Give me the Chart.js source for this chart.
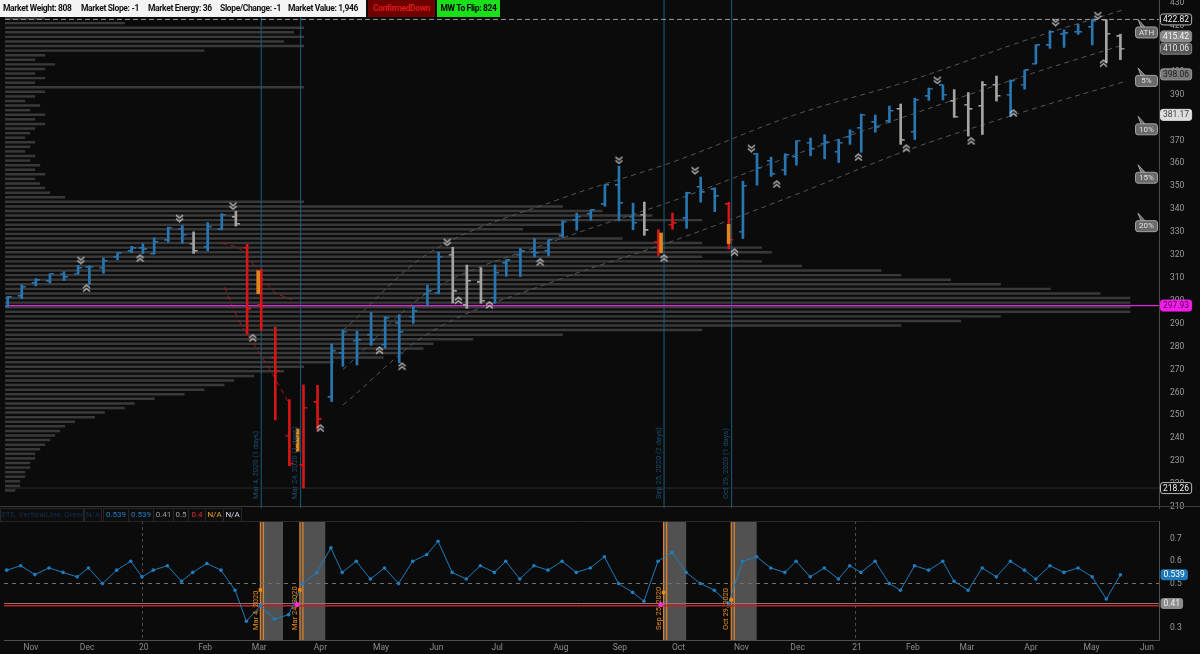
<!DOCTYPE html>
<html>
<head>
<meta charset="utf-8">
<script src="https://cdn.jsdelivr.net/npm/chart.js@4.4.0/dist/chart.umd.min.js"></script>
<style>
  body { margin: 0; background: #0b0b0b; width: 1200px; height: 654px; overflow: hidden; font-family: Roboto, "Open Sans", sans-serif; }
  #price { position: absolute; left: 0; top: -10px; }
  #ind { position: absolute; left: 0; top: 508px; }
  #sep { position: absolute; left: 0; top: 506px; width: 1200px; height: 1px; background: #3c3c3c; }
  .mk { position: absolute; top: 0; height: 17px; line-height: 17px; font-size: 8.5px; font-weight: 700; white-space: nowrap; letter-spacing: -0.35px; }
  #mkw { left: 0; width: 366px; background: #f4f4f4; }
  #mkw span { position: absolute; color: #111; }
  #mkd { left: 368px; width: 67px; background: #6e0000; color: #e01818; text-align: center; }
  #mkf { left: 437px; width: 63px; background: #19e019; color: #000; text-align: center; }
  #ihdr { position: absolute; left: 0; top: 508px; height: 13px; width: 1159px; }
  #ihdr div { position: absolute; top: 0; height: 12px; line-height: 12px; font-size: 8px; border: 1px solid #262626; background: #0d0d0d; text-align: center; white-space: nowrap; }
</style>
</head>
<body>
<canvas id="price" width="1200" height="528"></canvas>
<div id="sep"></div>
<canvas id="ind" width="1200" height="146"></canvas>

<div class="mk" id="mkw">
  <span style="left:3px">Market Weight: 808</span>
  <span style="left:81px">Market Slope: -1</span>
  <span style="left:148px">Market Energy: 36</span>
  <span style="left:220px">Slope/Change: -1</span>
  <span style="left:288px">Market Value: 1,946</span>
</div>
<div class="mk" id="mkd">ConfirmedDown</div>
<div class="mk" id="mkf">MW To Flip: 824</div>

<div id="ihdr">
  <div style="left:0;width:82px;color:#12304c;text-align:left">ZTE, VerticalLine, Green</div>
  <div style="left:84px;width:16px;color:#12304c">N/A</div>
  <div style="left:103px;width:24px;color:#1f80c4">0.539</div>
  <div style="left:128px;width:24px;color:#1f80c4">0.539</div>
  <div style="left:153px;width:19px;color:#9a9a9a">0.41</div>
  <div style="left:173px;width:14px;color:#9a9a9a">0.5</div>
  <div style="left:188px;width:16px;color:#d83030">0.4</div>
  <div style="left:205px;width:17px;color:#e8a030">N/A</div>
  <div style="left:223px;width:17px;color:#d8d8e8">N/A</div>
</div>

<script>
// ---- data (weekly bars, week starting Monday) ----
const weekStart = ['2019-10-21','2019-10-28','2019-11-04','2019-11-11','2019-11-18','2019-11-25','2019-12-02','2019-12-09','2019-12-16','2019-12-23',
  '2019-12-30','2020-01-06','2020-01-13','2020-01-20','2020-01-27','2020-02-03','2020-02-10','2020-02-17','2020-02-24','2020-03-02',
  '2020-03-09','2020-03-16','2020-03-23','2020-03-30','2020-04-06','2020-04-13','2020-04-20','2020-04-27','2020-05-04','2020-05-11',
  '2020-05-18','2020-05-25','2020-06-01','2020-06-08','2020-06-15','2020-06-22','2020-06-29','2020-07-06','2020-07-13','2020-07-20',
  '2020-07-27','2020-08-03','2020-08-10','2020-08-17','2020-08-24','2020-08-31','2020-09-07','2020-09-14','2020-09-21','2020-09-28',
  '2020-10-05','2020-10-12','2020-10-19','2020-10-26','2020-11-02','2020-11-09','2020-11-16','2020-11-23','2020-11-30','2020-12-07',
  '2020-12-14','2020-12-21','2020-12-28','2021-01-04','2021-01-11','2021-01-18','2021-01-25','2021-02-01','2021-02-08','2021-02-15',
  '2021-02-22','2021-03-01','2021-03-08','2021-03-15','2021-03-22','2021-03-29','2021-04-05','2021-04-12','2021-04-19','2021-04-26',
  '2021-05-03','2021-05-10','2021-05-17'];
const open = [297.9,302.0,307.8,308.5,311.9,311.9,314.6,314.4,319.0,321.6,
  322.9,320.5,326.4,331.3,325.0,323.4,331.2,336.5,323.1,298.2,
  275.0,241.2,228.2,255.7,257.8,277.1,282.6,285.1,280.7,290.3,
  293.1,302.9,303.6,320.2,298.0,308.0,301.4,316.4,320.1,321.4,
  321.6,328.3,335.1,337.9,342.1,350.4,336.7,337.5,325.7,333.2,
  336.0,349.6,348.6,342.1,330.2,364.0,361.0,357.3,362.8,369.0,
  368.6,365.0,371.7,375.3,377.9,378.3,383.7,373.7,389.3,394.0,
  387.1,385.6,385.0,394.3,390.0,394.4,403.5,411.5,416.3,417.4,
  419.4,422.5,415.4];
const high = [301.9,307.0,309.7,311.8,312.7,315.5,315.3,318.7,320.9,323.8,
  324.9,327.5,332.2,332.9,330.1,334.2,338.1,339.1,324.7,313.8,
  288.5,256.9,263.3,263.1,281.2,287.3,286.8,294.9,293.0,294.0,
  297.9,306.8,321.3,323.4,315.6,314.5,315.7,317.9,323.0,327.2,
  326.6,335.0,338.3,339.7,350.7,358.8,342.6,343.1,331.1,338.3,
  347.4,354.0,349.3,343.0,352.2,364.4,362.7,364.2,369.9,371.1,
  372.5,370.5,374.7,381.5,381.1,385.0,385.9,388.5,392.9,394.2,
  392.2,390.9,395.7,398.1,396.4,400.7,411.7,417.9,418.3,420.7,
  422.8,422.7,416.4];
const low = [297.2,300.9,306.5,307.8,308.9,311.7,307.1,312.0,317.9,321.0,
  320.5,320.4,325.6,325.1,320.7,321.8,331.0,332.6,285.5,286.9,
  248.0,228.0,218.3,243.9,256.0,271.4,272.0,280.5,279.3,273.0,
  290.2,297.8,303.1,299.0,296.7,298.9,298.9,310.7,310.6,319.2,
  319.6,327.8,330.8,335.2,341.3,334.9,331.0,328.6,319.8,331.2,
  331.6,343.1,338.9,322.6,327.2,350.5,354.3,354.9,359.2,363.3,
  362.0,360.4,368.3,364.8,373.6,377.8,368.3,370.4,387.5,387.7,
  380.1,371.9,372.6,387.2,380.5,392.4,403.4,410.2,410.6,416.3,
  411.7,404.0,405.3];
const close = [301.6,306.1,309.0,311.8,310.3,314.3,314.9,317.3,320.7,322.9,
  322.4,325.7,332.0,328.8,321.7,332.2,337.6,333.5,296.3,297.5,
  269.3,228.8,253.4,248.2,278.2,286.6,283.0,282.8,292.4,286.3,
  295.4,304.3,319.3,304.2,308.6,300.1,312.2,317.6,321.7,320.9,
  326.5,334.6,336.8,339.5,350.6,342.6,334.1,330.7,328.7,333.8,
  346.9,347.3,345.8,326.5,350.2,358.1,355.3,363.7,369.9,366.3,
  369.2,369.0,373.9,381.3,375.7,382.9,370.1,387.7,392.6,390.0,
  380.4,383.6,394.1,389.5,396.0,400.6,411.5,417.3,416.7,417.3,
  422.1,416.6,410.1];
// b = trend up (blue), r = confirmed down (red), g = neutral (grey)
const barTone = ['b','b','b','b','b','b','b','b','b','b',
  'b','b','b','b','g','b','b','g','r','r',
  'r','r','r','r','b','b','b','b','b','b',
  'b','b','b','g','g','g','b','b','b','b',
  'b','b','b','b','b','b','b','g','r','r',
  'b','b','b','r','b','b','b','b','b','b',
  'b','b','b','b','b','b','g','b','b','b',
  'g','g','g','g','b','b','b','b','b','b',
  'b','g','g'];

// lower study, one reading per week
const studyValue = [0.56,0.58,0.54,0.57,0.55,0.53,0.57,0.50,0.56,0.60,
  0.53,0.56,0.58,0.51,0.55,0.59,0.56,0.47,0.33,0.40,
  0.34,0.36,0.50,0.55,0.66,0.55,0.60,0.52,0.57,0.50,
  0.60,0.63,0.69,0.55,0.52,0.58,0.55,0.60,0.52,0.58,
  0.56,0.60,0.55,0.57,0.62,0.50,0.46,0.42,0.60,0.64,
  0.55,0.50,0.47,0.41,0.60,0.62,0.57,0.55,0.60,0.53,
  0.57,0.52,0.58,0.55,0.60,0.50,0.47,0.58,0.56,0.60,
  0.51,0.47,0.57,0.53,0.60,0.56,0.52,0.58,0.55,0.57,
  0.53,0.43,0.539];

// volume profile rows (price level, relative volume)
const profileLevel = [426,424,422,420,418,416,414,412,410,408,406,404,402,400,398,396,394,392,390,388,
  386,384,382,380,378,376,374,372,370,368,366,364,362,360,358,356,354,352,350,348,
  346,344,342,340,338,336,334,332,330,328,326,324,322,320,318,316,314,312,310,308,
  306,304,302,300,298,296,294,292,290,288,286,284,282,280,278,276,274,272,270,268,
  266,264,262,260,258,256,254,252,250,248,246,244,242,240,238,236,234,232,230,228,
  226,224,222,220,218];
const profileVol = [20,40,120,300,290,300,280,300,200,40,30,50,40,30,40,30,300,40,30,20,
  35,25,40,30,40,30,25,20,30,25,20,30,25,35,30,40,30,35,40,45,
  60,300,560,600,650,700,560,520,560,620,700,760,770,700,760,800,880,900,950,1000,
  1050,1100,1130,1130,1130,1130,1000,960,900,700,560,470,430,420,400,380,330,300,280,250,
  230,220,200,180,150,130,120,100,90,70,60,55,50,45,40,35,30,30,25,25,
  20,20,15,15,10];

// regression channel (dashed)
const channelDates = ['2020-04-15','2020-06-01','2020-08-03','2020-10-01','2020-12-01','2021-02-01','2021-04-01','2021-05-20'];
const channelUpper = [287,322,344,361,381,396,414,427];
const channelMid = [270,305,326.5,344,363.6,381,398.6,411.7];
const channelLower = [254.5,287,309,326.5,346,366,383,395.5];
const crashDatesA = ['2020-02-12','2020-02-24','2020-03-10','2020-03-19'];
const crashA = [325.2,322.2,304.7,300.4];
const crashDatesB = ['2020-02-13','2020-02-21','2020-03-02','2020-03-10','2020-03-18'];
const crashB = [306,291.6,279.8,268,255];

// swing markers
const swingHighDates = ['2019-11-29','2020-01-22','2020-02-19','2020-06-08','2020-09-02','2020-10-12','2020-11-09','2021-02-16','2021-04-16','2021-05-07'];
const swingHighPrice = [317.8,336.1,341.5,325.7,361.5,357.0,366.7,396.4,421.7,424.7];
const swingLowDates = ['2019-12-03','2019-12-31','2020-02-28','2020-04-02','2020-05-04','2020-05-14','2020-06-12','2020-06-29','2020-07-24','2020-09-25','2020-10-30','2020-11-20','2021-01-05','2021-01-29','2021-03-04','2021-03-25','2021-05-11'];
const swingLowPrice = [305.6,318.7,283.8,244.5,278.5,271.5,300.3,298.2,317.0,318.7,321.3,351.0,362.8,366.7,369.8,382.0,403.8];

// signal days
const eventDates = ['2020-03-04','2020-03-24','2020-09-25','2020-10-29'];
const eventText = ['Mar 4, 2020 (1 days)','Mar 24, 2020 (1 days)','Sep 25, 2020 (2 days)','Oct 29, 2020 (1 days)'];
const eventShort = ['Mar 4, 2020','Mar 24, 2020','Sep 25, 2020','Oct 29, 2020'];
const eventLow = [303.1,234.3,321.0,325.0];
const eventHigh = [313.1,244.1,329.6,333.4];
const eventEnd = ['2020-03-16','2020-04-06','2020-10-07','2020-11-11'];
const orangeMarkDates = ['2020-03-04','2020-03-24','2020-09-25','2020-10-29'];
const orangeMarkVal = [0.471,0.471,0.46,0.426];
const pinkMarkDates = ['2020-03-23','2020-09-24'];
const pinkMarkVal = [0.406,0.406];

// levels
const athLevel = 422.82;
const pivotLevel = 297.93;
const lowLevel = 218.26;
const priceTags = [
  { v: 422.82, t: '422.82', fill: '#0d0d0d', stroke: '#b8b8b8', color: '#eeeeee' },
  { v: 415.42, t: '415.42', fill: '#8a8a8a', stroke: '#8a8a8a', color: '#f4f4f4' },
  { v: 410.06, t: '410.06', fill: '#555555', stroke: '#888888', color: '#e8e8e8' },
  { v: 398.86, t: '398.06', fill: '#7a7a7a', stroke: '#9a9a9a', color: '#1c1c1c' },
  { v: 381.17, t: '381.17', fill: '#dedede', stroke: '#dedede', color: '#444444' },
  { v: 297.93, t: '297.93', fill: '#f01ee8', stroke: '#f01ee8', color: '#5a005a' },
  { v: 218.26, t: '218.26', fill: '#0d0d0d', stroke: '#b8b8b8', color: '#eeeeee' }
];
const bubbleText = ['ATH','5%','10%','15%','20%'];
const bubbleLevel = [422.82,401.68,380.54,359.40,338.26];
const studyTags = [
  { v: 0.539, t: '0.539', fill: '#1f78b8', color: '#ffffff' },
  { v: 0.41, t: '0.41', fill: '#8c8c8c', color: '#f0f0f0' }
];

const monthStart = ['2019-11-01','2019-12-02','2020-01-02','2020-02-03','2020-03-02','2020-04-01','2020-05-01','2020-06-01','2020-07-01','2020-08-03',
  '2020-09-01','2020-10-01','2020-11-02','2020-12-01','2021-01-04','2021-02-01','2021-03-01','2021-04-01','2021-05-03','2021-06-01'];
const monthLabel = ['Nov','Dec','20','Feb','Mar','Apr','May','Jun','Jul','Aug','Sep','Oct','Nov','Dec','21','Feb','Mar','Apr','May','Jun'];

// ---- trading-day axis ----
const holidays = ['2019-11-28','2019-12-25','2020-01-01','2020-01-20','2020-02-17','2020-04-10','2020-05-25','2020-07-03','2020-09-07',
  '2020-11-26','2020-12-25','2021-01-01','2021-01-18','2021-02-15','2021-04-02','2021-05-31'];
function tday(s) {
  const base = Date.UTC(2019, 10, 1);
  const p = s.split('-').map(Number);
  const t = Date.UTC(p[0], p[1] - 1, p[2]);
  const a = Math.min(t, base), b = Math.max(t, base);
  let n = 0;
  for (let d = a; d < b; d += 864e5) {
    const dt = new Date(d);
    const wd = dt.getUTCDay();
    if (wd > 0 && wd < 6 && !holidays.includes(dt.toISOString().slice(0, 10))) n++;
  }
  return t >= base ? n : -n;
}
const X_MIN = -7.95, X_MAX = 401.7;
const monthIdx = monthStart.map(tday);
const yearIdx = [monthIdx[2], monthIdx[14]];
const barX = weekStart.map(d => tday(d) + 2);

const tone = { b: '#2877b2', r: '#d41616', g: '#a4a4a4' };

function tickImg(color, left) {
  const c = document.createElement('canvas');
  c.width = 10; c.height = 2;
  const g = c.getContext('2d');
  g.fillStyle = color;
  g.fillRect(left ? 1 : 5, 0, 4, 1.5);
  return c;
}
const openImg = {}, closeImg = {};
Object.keys(tone).forEach(k => { openImg[k] = tickImg(tone[k], true); closeImg[k] = tickImg(tone[k], false); });

function chevImg(up) {
  const c = document.createElement('canvas');
  c.width = 9; c.height = 9;
  const g = c.getContext('2d');
  g.strokeStyle = '#d0d0d0'; g.lineWidth = 1.1;
  [1.5, 5].forEach(o => {
    g.beginPath();
    if (up) { g.moveTo(1, o + 3); g.lineTo(4.5, o); g.lineTo(8, o + 3); }
    else { g.moveTo(1, o); g.lineTo(4.5, o + 3); g.lineTo(8, o); }
    g.stroke();
  });
  return c;
}

function hline(v, color, dash, width) {
  return { type: 'line', data: [{ x: X_MIN, y: v }, { x: X_MAX, y: v }], borderColor: color, borderWidth: width || 1,
    borderDash: dash || [], pointRadius: 0, order: 4 };
}
function dashLine(dates, vals, color) {
  return { type: 'line', data: dates.map((d, i) => ({ x: tday(d), y: vals[i] })), borderColor: color, borderWidth: 1,
    borderDash: [5, 4], pointRadius: 0, tension: 0.35, order: 5 };
}

function roundRect(ctx, x, y, w, h, r) {
  ctx.beginPath();
  ctx.moveTo(x + r, y); ctx.lineTo(x + w - r, y); ctx.quadraticCurveTo(x + w, y, x + w, y + r);
  ctx.lineTo(x + w, y + h - r); ctx.quadraticCurveTo(x + w, y + h, x + w - r, y + h);
  ctx.lineTo(x + r, y + h); ctx.quadraticCurveTo(x, y + h, x, y + h - r);
  ctx.lineTo(x, y + r); ctx.quadraticCurveTo(x, y, x + r, y);
  ctx.closePath();
}

const priceDecor = {
  id: 'priceDecor',
  afterDatasetsDraw(chart) {
    const ctx = chart.ctx, xs = chart.scales.x, ys = chart.scales.y, a = chart.chartArea;
    ctx.save();
    ctx.font = '7.5px Roboto';
    ctx.fillStyle = '#1b4e70';
    eventDates.forEach((d, i) => {
      const x = xs.getPixelForValue(tday(d));
      ctx.save();
      ctx.translate(x - 1.5, a.bottom - 9);
      ctx.rotate(-Math.PI / 2);
      ctx.textAlign = 'left';
      ctx.textBaseline = 'bottom';
      ctx.fillText(eventText[i], 0, 0);
      ctx.restore();
    });
    // % from ATH callouts
    ctx.font = '8px Roboto';
    bubbleLevel.forEach((v, i) => {
      const y = ys.getPixelForValue(v);
      ctx.fillStyle = '#6a6a6a';
      ctx.strokeStyle = '#a0a0a0';
      ctx.beginPath();
      ctx.moveTo(1138, y); ctx.lineTo(1141, y + 7.5); ctx.lineTo(1145, y + 7.5); ctx.closePath();
      ctx.fill(); ctx.stroke();
      roundRect(ctx, 1135.5, y + 7.5, 22, 11, 2.5);
      ctx.fill(); ctx.stroke();
      ctx.fillStyle = '#e0e0e0';
      ctx.textAlign = 'center'; ctx.textBaseline = 'middle';
      ctx.fillText(bubbleText[i], 1146.5, y + 13.3);
    });
    ctx.restore();
  },
  afterDraw(chart) {
    const ctx = chart.ctx, ys = chart.scales.y;
    ctx.save();
    ctx.font = '8.5px Roboto';
    ctx.textBaseline = 'middle';
    priceTags.forEach(tg => {
      const y = ys.getPixelForValue(tg.v);
      const w = ctx.measureText(tg.t).width + 5;
      roundRect(ctx, 1160.5, y - 5.5, w, 11, 2.5);
      ctx.fillStyle = tg.fill; ctx.fill();
      ctx.strokeStyle = tg.stroke; ctx.lineWidth = 1; ctx.stroke();
      ctx.fillStyle = tg.color;
      ctx.fillText(tg.t, 1163, y + 0.5);
    });
    ctx.restore();
  }
};

const priceChart = new Chart(document.getElementById('price'), {
  type: 'bar',
  data: {
    datasets: [
      { type: 'bar', indexAxis: 'y', order: 10, barThickness: 1.8, backgroundColor: 'rgba(66,66,66,0.85)',
        data: profileLevel.map((p, i) => ({ x: [X_MIN, X_MIN + profileVol[i] * 0.3534], y: p })) },
      dashLine(channelDates, channelUpper, '#575757'),
      dashLine(channelDates, channelMid, '#575757'),
      dashLine(channelDates, channelLower, '#575757'),
      dashLine(crashDatesA, crashA, '#b01616'),
      dashLine(crashDatesB, crashB, '#b01616'),
      hline(athLevel, '#9a9a9a', [5, 3]),
      hline(pivotLevel, '#e21ee0', [], 1.2),
      hline(lowLevel, '#2c2c2c'),
      ...eventDates.map(d => ({ type: 'line', data: [{ x: tday(d), y: 205 }, { x: tday(d), y: 440 }],
        borderColor: '#1b5c80', borderWidth: 1, pointRadius: 0, order: 4 })),
      { type: 'bar', order: 2, barThickness: 2,
        data: barX.map((x, i) => ({ x: x, y: [low[i], high[i]] })),
        backgroundColor: barTone.map(t => tone[t]) },
      { type: 'bar', order: 1, barThickness: 3, backgroundColor: '#e0861c',
        data: eventDates.map((d, i) => ({ x: tday(d), y: [eventLow[i], eventHigh[i]] })) },
      { type: 'line', showLine: false, order: 1,
        data: barX.map((x, i) => ({ x: x, y: open[i] })),
        pointStyle: barTone.map(t => openImg[t]) },
      { type: 'line', showLine: false, order: 1,
        data: barX.map((x, i) => ({ x: x, y: close[i] })),
        pointStyle: barTone.map(t => closeImg[t]) },
      { type: 'line', showLine: false, order: 0, pointStyle: chevImg(false),
        data: swingHighDates.map((d, i) => ({ x: tday(d), y: swingHighPrice[i] })) },
      { type: 'line', showLine: false, order: 0, pointStyle: chevImg(true),
        data: swingLowDates.map((d, i) => ({ x: tday(d), y: swingLowPrice[i] })) }
    ]
  },
  options: {
    responsive: false,
    animation: false,
    layout: { padding: { top: 10, bottom: 10, left: 0, right: 0 } },
    plugins: { legend: { display: false }, tooltip: { enabled: false } },
    scales: {
      x: { type: 'linear', min: X_MIN, max: X_MAX, offset: false, display: false },
      y: {
        type: 'linear', position: 'right', min: 209.56, max: 431.31, offset: false, beginAtZero: false,
        afterFit: s => { s.width = 41; },
        grid: { display: false, offset: false },
        border: { display: true, color: '#4a4a4a' },
        ticks: { stepSize: 10, includeBounds: false, color: '#9c9c9c', padding: 3, font: { family: 'Roboto', size: 8.5 } }
      }
    }
  },
  plugins: [priceDecor]
});

const studyDecor = {
  id: 'studyDecor',
  beforeDatasetsDraw(chart) {
    const ctx = chart.ctx, xs = chart.scales.x, a = chart.chartArea;
    ctx.save();
    eventDates.forEach((d, i) => {
      const x0 = xs.getPixelForValue(tday(d));
      const x1 = xs.getPixelForValue(tday(eventEnd[i]));
      ctx.fillStyle = 'rgba(140,140,140,0.55)';
      ctx.fillRect(x0, a.top, x1 - x0, a.bottom - a.top);
      ctx.strokeStyle = '#d9822b';
      ctx.lineWidth = 1.3;
      [x0, x0 + 3].forEach(x => { ctx.beginPath(); ctx.moveTo(x, a.top); ctx.lineTo(x, a.bottom); ctx.stroke(); });
    });
    ctx.strokeStyle = '#2a2a2a';
    ctx.lineWidth = 1;
    ctx.beginPath(); ctx.moveTo(0, a.top + 0.5); ctx.lineTo(a.right, a.top + 0.5); ctx.stroke();
    ctx.restore();
  },
  afterDatasetsDraw(chart) {
    const ctx = chart.ctx, xs = chart.scales.x, a = chart.chartArea;
    ctx.save();
    ctx.font = '7.5px Roboto';
    ctx.fillStyle = '#e08a22';
    eventDates.forEach((d, i) => {
      const x = xs.getPixelForValue(tday(d));
      ctx.save();
      ctx.translate(x - 1, a.bottom - 10);
      ctx.rotate(-Math.PI / 2);
      ctx.textAlign = 'left';
      ctx.textBaseline = 'bottom';
      ctx.fillText(eventShort[i], 0, 0);
      ctx.restore();
    });
    ctx.restore();
  },
  afterDraw(chart) {
    const ctx = chart.ctx, ys = chart.scales.y;
    ctx.save();
    ctx.font = '8.5px Roboto';
    ctx.textBaseline = 'middle';
    studyTags.forEach(tg => {
      const y = ys.getPixelForValue(tg.v);
      const w = ctx.measureText(tg.t).width + 6;
      roundRect(ctx, 1160.5, y - 5.5, w, 11, 3);
      ctx.fillStyle = tg.fill; ctx.fill();
      ctx.fillStyle = tg.color;
      ctx.fillText(tg.t, 1163.5, y + 0.5);
    });
    ctx.restore();
  }
};

const studyChart = new Chart(document.getElementById('ind'), {
  type: 'line',
  data: {
    datasets: [
      { data: barX.map((x, i) => ({ x: x, y: studyValue[i] })), borderColor: '#1f7cbd', borderWidth: 1,
        pointRadius: 1.8, pointBackgroundColor: '#1f7cbd', pointBorderWidth: 0, order: 1 },
      { data: [{ x: X_MIN, y: 0.5 }, { x: X_MAX, y: 0.5 }], borderColor: '#707070', borderWidth: 1, borderDash: [4, 4], pointRadius: 0, order: 3 },
      { data: [{ x: X_MIN, y: 0.41 }, { x: X_MAX, y: 0.41 }], borderColor: '#9a7272', borderWidth: 1, pointRadius: 0, order: 3 },
      { data: [{ x: X_MIN, y: 0.4 }, { x: X_MAX, y: 0.4 }], borderColor: '#c42020', borderWidth: 1.3, pointRadius: 0, order: 3 },
      { data: orangeMarkDates.map((d, i) => ({ x: tday(d), y: orangeMarkVal[i] })), showLine: false,
        pointStyle: 'rect', pointRadius: 2.5, pointBackgroundColor: '#f08a10', pointBorderWidth: 0, order: 0 },
      { data: pinkMarkDates.map((d, i) => ({ x: tday(d), y: pinkMarkVal[i] })), showLine: false,
        pointStyle: 'circle', pointRadius: 2.5, pointBackgroundColor: '#ff22ff', pointBorderWidth: 0, order: 0 }
    ]
  },
  options: {
    responsive: false,
    animation: false,
    layout: { padding: { top: 13 } },
    plugins: { legend: { display: false }, tooltip: { enabled: false } },
    scales: {
      x: {
        type: 'linear', min: X_MIN, max: X_MAX,
        afterFit: s => { s.height = 14; },
        afterBuildTicks: s => { s.ticks = monthIdx.map(v => ({ value: v })); },
        grid: { color: c => (c.tick && yearIdx.includes(c.tick.value)) ? '#4c4c4c' : 'rgba(0,0,0,0)', drawTicks: false },
        border: { display: true, color: '#505050', dash: [3, 3] },
        ticks: { autoSkip: false, maxRotation: 0, align: 'start', padding: 3, labelOffset: -3, color: '#8c8c8c',
          font: { family: 'Roboto', size: 8.5 }, callback: (v, i) => monthLabel[i] }
      },
      y: {
        type: 'linear', position: 'right', min: 0.246, max: 0.781,
        afterFit: s => { s.width = 41; },
        grid: { display: false },
        border: { display: true, color: '#505050' },
        ticks: { stepSize: 0.1, includeBounds: false, color: '#9c9c9c', padding: 3,
          font: { family: 'Roboto', size: 8.5 }, callback: v => v.toFixed(1) }
      }
    }
  },
  plugins: [studyDecor]
});
</script>
</body>
</html>
